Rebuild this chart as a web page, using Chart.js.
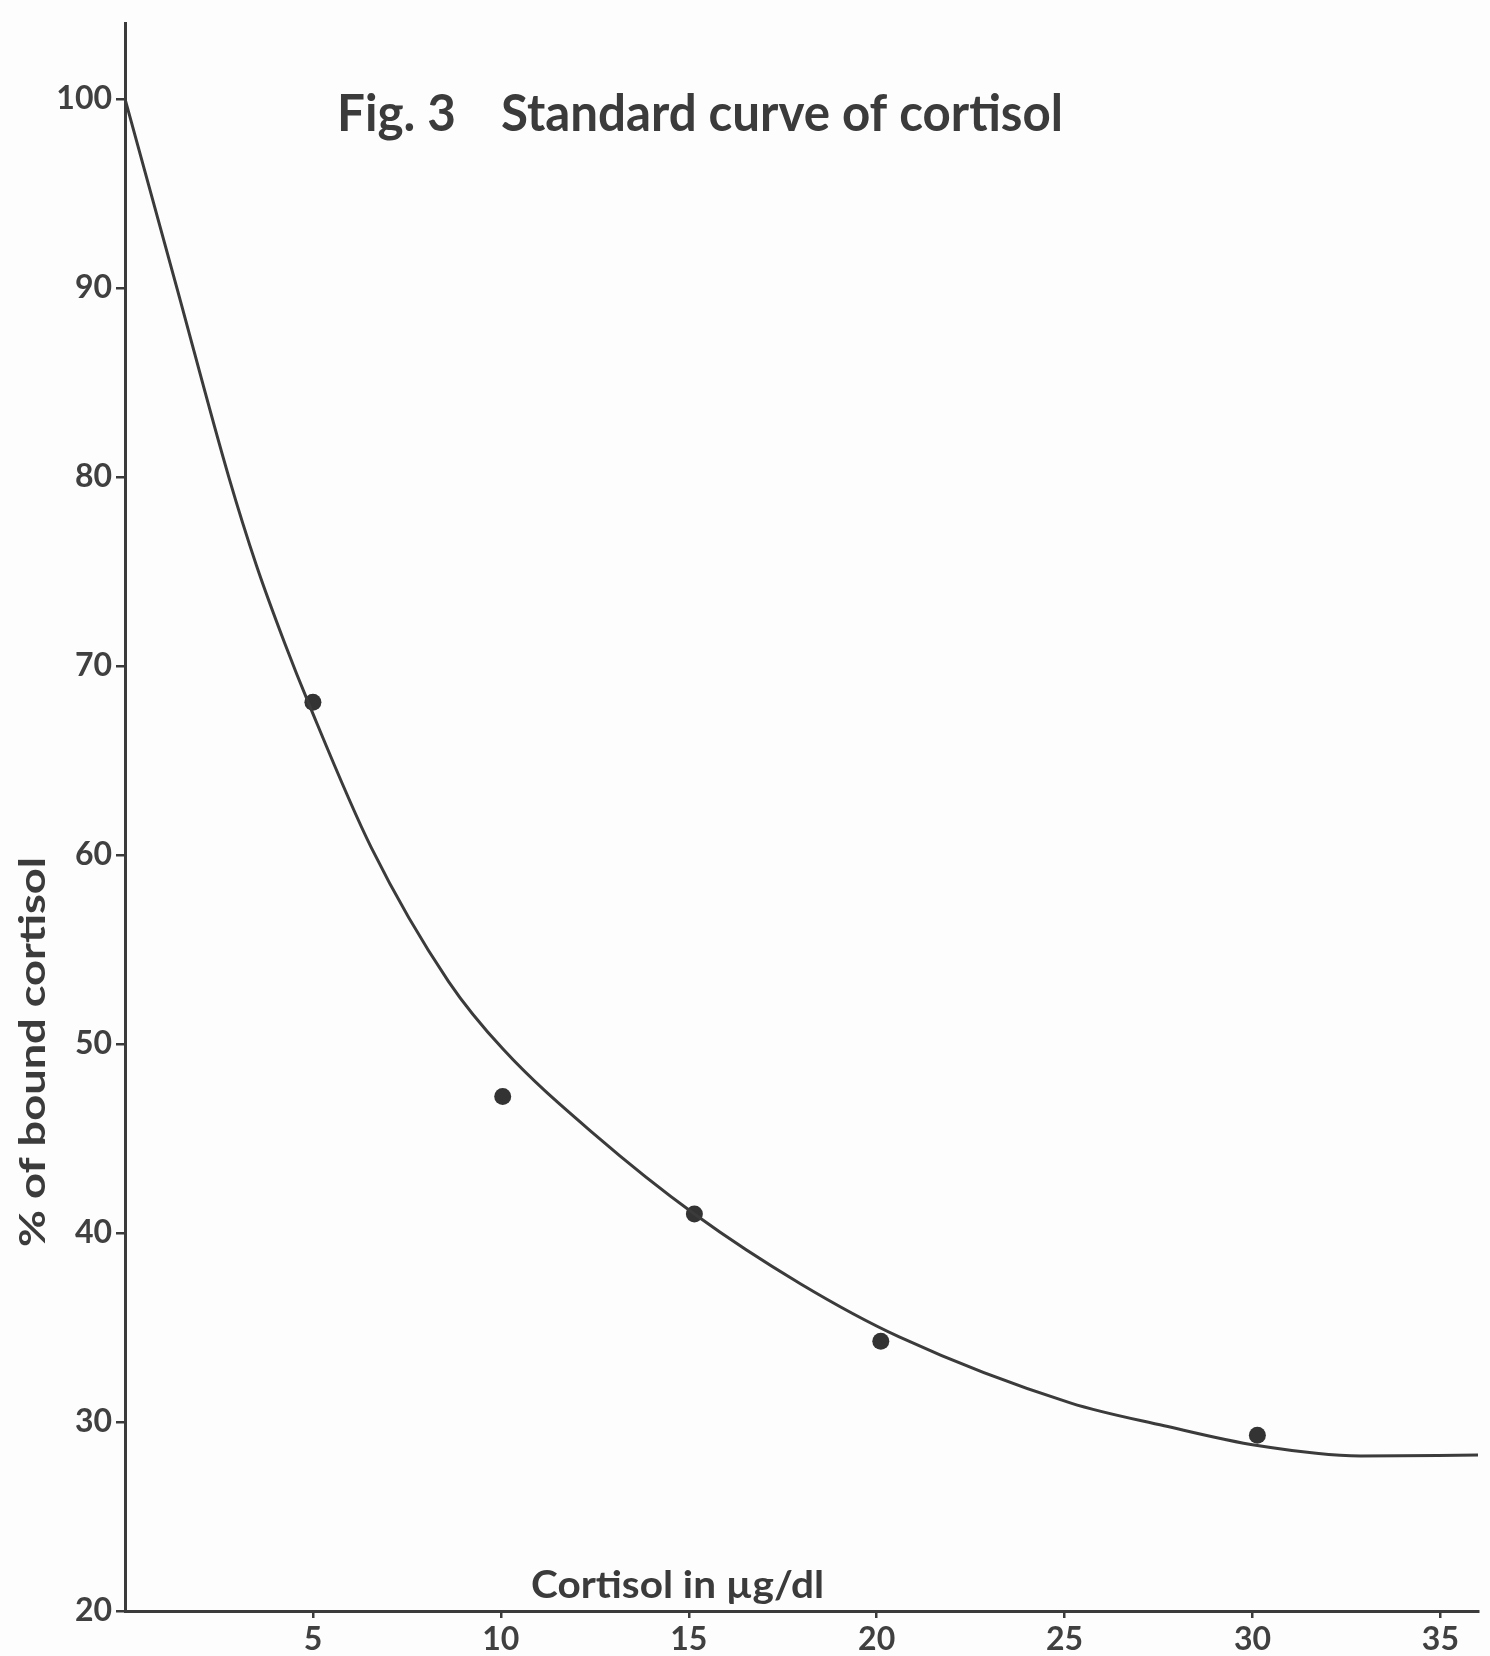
<!DOCTYPE html>
<html>
<head>
<meta charset="utf-8">
<title>Fig. 3 Standard curve of cortisol</title>
<script src="https://cdn.jsdelivr.net/npm/chart.js@4.4.1/dist/chart.umd.min.js"></script>
<style>
  html, body { margin: 0; padding: 0; background: #fdfdfd; }
  #chart { display: block; }
</style>
</head>
<body>
<canvas id="chart" width="1490" height="1656"></canvas>
<script>
// --- data ---
// fitted standard curve (cortisol ug/dl -> % bound)
const curveDose  = [0, 1.38, 2.76, 3.5, 4.25, 4.9, 6.55, 8.61, 10.07, 12.5, 15.15, 17.98, 20.6, 25.17, 27.65, 30.13, 32.87, 36];
const curveBound = [100, 90, 80, 75.3, 71.2, 67.95, 60.4, 53.3, 49.7, 45.2, 41.0, 37.3, 34.5, 31.0, 29.8, 28.75, 28.2, 28.25];

// measured standards
const pointDose  = [5.0, 10.05, 15.15, 20.11, 30.13];
const pointBound = [68.07, 47.22, 41.0, 34.27, 29.3];

// axis ticks
const xTicks = [5, 10, 15, 20, 25, 30, 35];
const yTicks = [20, 30, 40, 50, 60, 70, 80, 90, 100];

const ink = '#3b3b3b';
const fontFamily = 'Lato, "DejaVu Sans", sans-serif';

// draws text squeezed/stretched to a given width (the lettering is condensed)
function fitText(ctx, text, x, y, width, size, weight) {
    ctx.save();
    ctx.font = (weight || 'normal') + ' ' + size + 'px ' + fontFamily;
    const w = ctx.measureText(text).width;
    ctx.translate(x, y);
    ctx.scale(width / w, 1);
    ctx.fillText(text, 0, 0);
    ctx.restore();
}

const paperPlugin = {
    id: 'paper',
    beforeDraw(chart) {
        const ctx = chart.ctx;
        ctx.save();
        ctx.fillStyle = '#fdfdfd';
        ctx.fillRect(0, 0, chart.width, chart.height);
        ctx.restore();
    }
};

// title and axis captions sit inside the plot, like the hand lettered original
const captionPlugin = {
    id: 'captions',
    afterDraw(chart) {
        const ctx = chart.ctx;
        ctx.save();
        ctx.fillStyle = ink;
        ctx.textAlign = 'left';
        ctx.textBaseline = 'alphabetic';

        // main title
        fitText(ctx, 'Fig. 3', 337, 131, 119, 52, 'bold');
        fitText(ctx, 'Standard curve of cortisol', 501, 131, 562, 52, 'bold');

        // x axis caption, above the axis line
        fitText(ctx, 'Cortisol in \u00b5g/dl', 531, 1598, 293, 38, 'bold');

        // y axis caption, rotated
        ctx.save();
        ctx.translate(45, 1247);
        ctx.rotate(-Math.PI / 2);
        fitText(ctx, '% of bound cortisol', 0, 0, 390, 36, 'bold');
        ctx.restore();

        ctx.restore();
    }
};

const ctx = document.getElementById('chart').getContext('2d');
const chart = new Chart(ctx, {
    type: 'scatter',
    data: {
        datasets: [
            {
                label: 'Standard curve',
                data: curveDose.map((d, i) => ({ x: d, y: curveBound[i] })),
                showLine: true,
                borderColor: ink,
                borderWidth: 3,
                pointRadius: 0,
                cubicInterpolationMode: 'monotone',
                fill: false
            },
            {
                label: 'Standards',
                data: pointDose.map((d, i) => ({ x: d, y: pointBound[i] })),
                showLine: false,
                pointRadius: 8.5,
                pointBackgroundColor: '#333333',
                pointBorderWidth: 0
            }
        ]
    },
    options: {
        responsive: false,
        animation: false,
        layout: { padding: { left: 0, top: 11, right: 12, bottom: 0 } },
        plugins: {
            legend: { display: false },
            tooltip: { enabled: false },
            title: { display: false }
        },
        scales: {
            x: {
                type: 'linear',
                min: 0,
                max: 36,
                afterFit: (s) => { s.height = 45; },
                afterBuildTicks: (s) => { s.ticks = xTicks.map(v => ({ value: v })); },
                border: { display: true, color: ink, width: 3 },
                grid: { drawOnChartArea: false, drawTicks: true, tickLength: 7, color: ink, lineWidth: 2.5 },
                ticks: {
                    color: '#404040',
                    padding: 2,
                    font: { family: fontFamily, size: 32, weight: 'bold' },
                    maxRotation: 0,
                    autoSkip: false
                }
            },
            y: {
                type: 'linear',
                min: 20,
                max: 104,
                afterFit: (s) => { s.width = 125; },
                afterBuildTicks: (s) => { s.ticks = yTicks.map(v => ({ value: v })); },
                border: { display: true, color: ink, width: 3 },
                grid: { drawOnChartArea: false, drawTicks: true, tickLength: 9, color: ink, lineWidth: 2.5 },
                ticks: {
                    color: '#404040',
                    padding: 4,
                    font: { family: fontFamily, size: 32, weight: 'bold' },
                    autoSkip: false
                }
            }
        }
    },
    plugins: [paperPlugin, captionPlugin]
});
</script>
</body>
</html>
